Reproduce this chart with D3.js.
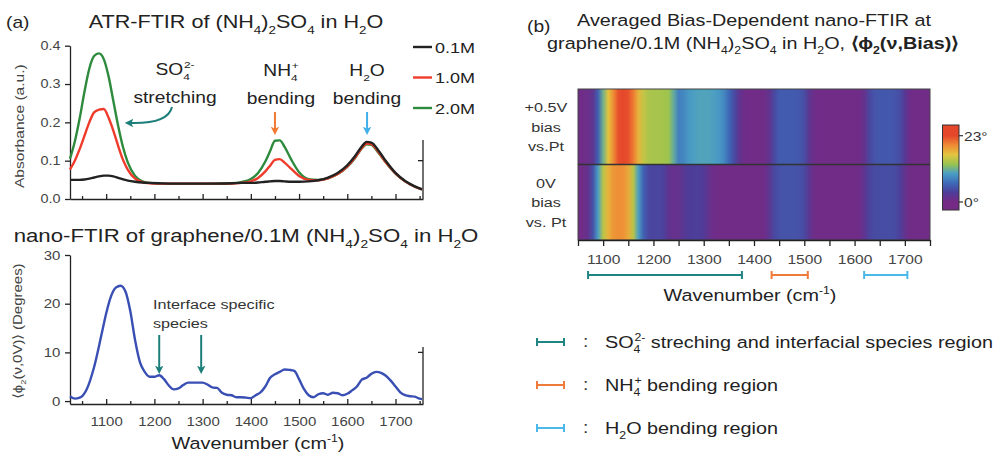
<!DOCTYPE html>
<html>
<head>
<meta charset="utf-8">
<style>
body { margin: 0; background: #fff; }
svg { font-family: "Liberation Sans", Arial, sans-serif; }
.axis text { fill: #444; }
.axis path, .axis line { stroke: #222; stroke-width: 1.3; }
</style>
<script src="https://d3js.org/d3.v7.min.js"></script>
</head>
<body>
<svg width="995" height="453"></svg>
<script>
// ---- data ----
var atrWn = [1025,1035,1045,1055,1065,1075,1085,1095,1105,1115,1125,1135,1145,1160,1175,1190,1210,1240,1280,1320,1360,1380,1400,1415,1430,1440,1450,1460,1470,1485,1500,1520,1540,1560,1580,1600,1615,1630,1640,1650,1665,1680,1700,1720,1740,1755];
var atr01 = [.05,.05,.05,.051,.053,.056,.059,.061,.061,.059,.055,.051,.048,.045,.043,.042,.041,.04,.04,.04,.041,.042,.042,.043,.045,.046,.047,.047,.046,.045,.045,.046,.049,.056,.068,.088,.11,.137,.149,.147,.126,.099,.068,.047,.033,.025];
var atr10 = [.077,.1,.13,.165,.2,.226,.233,.235,.212,.178,.138,.102,.076,.053,.044,.041,.04,.04,.04,.04,.04,.042,.046,.055,.072,.087,.102,.104,.095,.077,.06,.05,.049,.054,.065,.085,.106,.133,.145,.143,.122,.096,.067,.046,.032,.025];
var atr20 = [.105,.15,.21,.28,.34,.373,.38,.365,.32,.255,.19,.135,.095,.06,.046,.042,.04,.04,.04,.04,.041,.044,.052,.068,.098,.125,.152,.153,.136,.1,.07,.052,.05,.054,.065,.084,.105,.132,.143,.141,.12,.095,.066,.046,.032,.025];
var atrLabels = ["0.1M","1.0M","2.0M"];
var atrColors = ["#222222","#ef3b2c","#2e8b3e"];

var nanoWn = [1025,1035,1045,1060,1075,1090,1100,1110,1120,1130,1140,1150,1160,1170,1180,1190,1200,1210,1220,1230,1240,1250,1260,1270,1280,1290,1300,1310,1320,1330,1340,1350,1360,1370,1380,1390,1400,1410,1420,1430,1440,1450,1460,1470,1480,1490,1500,1510,1520,1530,1540,1550,1560,1570,1580,1590,1600,1610,1620,1630,1640,1650,1660,1670,1680,1690,1700,1710,1720,1730,1740,1750,1755];
var nanoPhase = [1.0,0.5,0.7,2.5,7,13.5,18,21.5,23.3,23.7,22.5,18.5,12.5,8,6,5,5,5.3,4.5,3.2,2.4,2.6,3.3,3.8,3.8,3.8,3.8,3.4,2.8,2.7,1.7,1.3,1.2,0.8,0.8,0.7,0.6,1.2,1.8,3,4.8,5.5,6,6.5,6.4,6.2,4.5,2.5,1.2,0.8,1.4,1.6,1.3,1.7,1.6,1.2,1.5,2.2,3,4.4,4.8,5.6,6,5.8,5.2,4.2,3,1.8,1.2,1.0,0.9,0.5,0.4];

var hmWn = [1050,1060,1070,1080,1090,1100,1110,1120,1130,1140,1150,1160,1170,1180,1190,1200,1210,1220,1230,1240,1250,1260,1270,1280,1290,1300,1310,1320,1330,1340,1350,1360,1370,1380,1390,1400,1410,1420,1430,1440,1450,1460,1470,1480,1490,1500,1510,1520,1530,1540,1550,1560,1570,1580,1590,1600,1610,1620,1630,1640,1650,1660,1670,1680,1690,1700,1710,1720,1730,1740,1750];
var hmRows = ["+0.5V","0V"];
var hmBias05 = [0.5,0.5,0.8,2,6,11.5,16.5,19.5,22.5,23,22.5,20.5,17.5,15,14,13.8,13.8,13.6,13.3,11,8,8.5,9.5,10,10.2,10.2,10.2,10,9.5,8.5,6.5,4.5,2,0.6,0.3,0.3,0.3,0.5,1.5,4,5.5,5.5,5.5,5.5,5.3,4.5,2,0.6,0.3,0.3,0.3,0.3,0.3,0.3,0.3,0.3,0.5,1.5,4,5,5.3,5.3,5.3,5,4.5,2.5,0.6,0.3,0.3,0.3,0.3];
var hmBias0 = [0.3,0.5,1.5,5,10,14.5,17.5,19,19.5,19.3,18,14.5,10,6,4.2,3.8,4,3.6,1.8,1.2,1.5,2.5,3.2,3.4,3.4,3,1.5,0.6,0.3,0.3,0.3,0.3,0.3,0.3,0.3,0.3,0.3,0.5,2,4,4.8,5,5,5,4.8,4.2,2,0.5,0.3,0.3,0.3,0.3,0.3,0.3,0.3,0.3,0.6,2,3.8,4.3,4.5,4.5,4.5,4.3,3.5,1.5,0.4,0.3,0.3,0.3,0.3];

var regionStart = [1070,1435,1619];
var regionEnd = [1376,1507,1705];
var regionColors = ["#1f8582","#f07a3a","#4ab8e8"];

var colorStops = [0,3.3,6.6,9.9,13.1,16.4,19.7,23];
var colorList = ["#752a85","#4d3d99","#3d6ab8","#4a9ec6","#98c450","#e3c53f","#ef8b35","#e5472a"];

var SX = 1.2; // reference lettering is horizontally wide
var svg = d3.select("svg");

// rich text with subscripts/superscripts
function rich(t, parts, size) {
  var shift = 0;
  parts.forEach(function(p) {
    var kind = p[1], o = p[2] || {};
    var target = kind === "sub" ? size * 0.32 : kind === "sup" ? -size * 0.42 : 0;
    var ts = t.append("tspan").text(p[0]).attr("dy", target - shift);
    if (kind) ts.style("font-size", (size * 0.62) + "px");
    if (o.dx) ts.attr("dx", o.dx);
    if (o.bold) ts.style("font-weight", "bold");
    shift = target;
  });
  return t;
}
function txt(x, y, size, anchor, rot) {
  return svg.append("text")
    .attr("transform", "translate(" + x + "," + y + ")" + (rot ? " rotate(" + rot + ")" : "") + " scale(" + SX + ",1)")
    .style("font-size", size + "px").attr("text-anchor", anchor || "start").attr("fill", "#222");
}
function stretchTicks(sel, size) {
  sel.selectAll("text").style("font-size", size + "px")
    .attr("transform", "scale(" + SX + ",1)");
}

// markers
var defs = svg.append("defs");
[["teal","#1d7f7a"],["orange","#f07830"],["blue","#3fb0e8"]].forEach(function(m) {
  defs.append("marker").attr("id", "arr-" + m[0]).attr("viewBox", "0 0 10 10")
    .attr("refX", 4).attr("refY", 5).attr("markerWidth", 4.2).attr("markerHeight", 4.2)
    .attr("orient", "auto")
    .append("path").attr("d", "M0,0 L10,5 L0,10 L2.5,5 Z").attr("fill", m[1]);
});

// ================= (a) top: ATR-FTIR =================
var xA = d3.scaleLinear().domain([1025, 1757]).range([70, 423]);
var yA = d3.scaleLinear().domain([0, 0.4]).range([199, 45.7]);

txt(6, 28, 16).text("(a)");
rich(txt(236, 28, 18, "middle"), [["ATR-FTIR of (NH"],["4","sub"],[")"],["2","sub"],["SO"],["4","sub"],[" in H"],["2","sub"],["O"]], 18);

svg.append("g").attr("class", "axis").attr("transform", "translate(70,0)")
  .call(d3.axisLeft(yA).tickValues([0, 0.1, 0.2, 0.3, 0.4]).tickFormat(d3.format(".1f")).tickSizeInner(5).tickSizeOuter(0).tickPadding(3))
  .call(stretchTicks, 12);
svg.append("g").attr("class", "axis").attr("transform", "translate(0,199)")
  .call(d3.axisTop(xA).tickValues([1100,1200,1300,1400,1500,1600,1700]).tickFormat("").tickSizeInner(5).tickSizeOuter(0));
svg.append("g").attr("class", "axis").attr("transform", "translate(0,199)")
  .call(d3.axisTop(xA).tickValues([1050,1150,1250,1350,1450,1550,1650,1750]).tickFormat("").tickSizeInner(3).tickSizeOuter(0))
  .select(".domain").remove();
svg.append("line").attr("x1", 423).attr("x2", 423).attr("y1", 140).attr("y2", 199).attr("stroke", "#222").attr("stroke-width", 1.3);
svg.append("line").attr("x1", 418).attr("x2", 423).attr("y1", yA(0.1)).attr("y2", yA(0.1)).attr("stroke", "#222").attr("stroke-width", 1.3);

txt(24, yA(0.19), 13, "middle", -90).attr("fill", "#444").text("Absorbance (a.u.)");

var lineA = d3.line().x(function(d) { return xA(d[0]); }).y(function(d) { return yA(d[1]); }).curve(d3.curveMonotoneX);
[atr20, atr10, atr01].forEach(function(s, i) {
  var c = [atrColors[2], atrColors[1], atrColors[0]][i];
  svg.append("path").datum(atrWn.map(function(w, j) { return [w, s[j]]; }))
    .attr("d", lineA).attr("fill", "none").attr("stroke", c).attr("stroke-width", 2.4);
});

// legend
atrLabels.forEach(function(l, i) {
  var y = 47 + i * 30.5;
  svg.append("line").attr("x1", 413).attr("x2", 432).attr("y1", y).attr("y2", y).attr("stroke", atrColors[i]).attr("stroke-width", 2.4);
  txt(435, y + 5.5, 15).text(l);
});

// annotations
rich(txt(175, 75, 16, "middle"), [["SO"],["4","sub"],["2-","sup",{dx:-5}]], 16);
txt(175, 103, 16, "middle").text("stretching");
svg.append("path").attr("d", "M172,107 Q168,124 130,123").attr("fill", "none")
  .attr("stroke", "#1d7f7a").attr("stroke-width", 2).attr("marker-end", "url(#arr-teal)");
rich(txt(281, 76, 16, "middle"), [["NH"],["4","sub"],["+","sup",{dx:-5}]], 16);
txt(281, 104, 16, "middle").text("bending");
svg.append("line").attr("x1", xA(1450)).attr("x2", xA(1450)).attr("y1", 112).attr("y2", 130)
  .attr("stroke", "#f07830").attr("stroke-width", 2).attr("marker-end", "url(#arr-orange)");
rich(txt(367, 76, 16, "middle"), [["H"],["2","sub"],["O"]], 16);
txt(367, 104, 16, "middle").text("bending");
svg.append("line").attr("x1", xA(1641)).attr("x2", xA(1641)).attr("y1", 112).attr("y2", 130)
  .attr("stroke", "#3fb0e8").attr("stroke-width", 2).attr("marker-end", "url(#arr-blue)");

// ================= (a) bottom: nano-FTIR =================
var yB = d3.scaleLinear().domain([-0.6, 30]).range([404, 255]);
rich(txt(246, 242, 18.5, "middle"), [["nano-FTIR of graphene/0.1M (NH"],["4","sub"],[")"],["2","sub"],["SO"],["4","sub"],[" in H"],["2","sub"],["O"]], 18.5);

svg.append("g").attr("class", "axis").attr("transform", "translate(70,0)")
  .call(d3.axisLeft(yB).tickValues([0, 10, 20, 30]).tickSizeInner(5).tickSizeOuter(0).tickPadding(3))
  .call(stretchTicks, 12.5);
svg.append("g").attr("class", "axis").attr("transform", "translate(0,404)")
  .call(d3.axisBottom(xA).tickValues([1100,1200,1300,1400,1500,1600,1700]).tickFormat(d3.format("d")).tickSizeInner(-5).tickSizeOuter(0).tickPadding(13))
  .call(stretchTicks, 12.5);
svg.append("g").attr("class", "axis").attr("transform", "translate(0,404)")
  .call(d3.axisTop(xA).tickValues([1050,1150,1250,1350,1450,1550,1650,1750]).tickFormat("").tickSizeInner(3).tickSizeOuter(0))
  .select(".domain").remove();
svg.append("line").attr("x1", 423).attr("x2", 423).attr("y1", 347).attr("y2", 404).attr("stroke", "#222").attr("stroke-width", 1.3);
svg.append("line").attr("x1", 418).attr("x2", 423).attr("y1", yB(10)).attr("y2", yB(10)).attr("stroke", "#222").attr("stroke-width", 1.3);

rich(txt(22, 331, 12.5, "middle", -90).attr("fill", "#444"),
  [["\u27E8\u03D5"],["2","sub"],["(\u03BD,0V)\u27E9 (Degrees)"]], 12.5);
rich(txt(258, 449, 16.5, "middle"), [["Wavenumber (cm"],["-1","sup"],[")"]], 16.5);

svg.append("path").datum(nanoWn.map(function(w, j) { return [w, nanoPhase[j]]; }))
  .attr("d", d3.line().x(function(d) { return xA(d[0]); }).y(function(d) { return yB(d[1]); }).curve(d3.curveMonotoneX))
  .attr("fill", "none").attr("stroke", "#3a4fb4").attr("stroke-width", 2.4);

txt(153, 309, 13.5).attr("fill", "#333").text("Interface specific");
txt(153, 328, 13.5).attr("fill", "#333").text("species");
[1210, 1297].forEach(function(w) {
  svg.append("line").attr("x1", xA(w)).attr("x2", xA(w)).attr("y1", 335).attr("y2", 369)
    .attr("stroke", "#1d7f7a").attr("stroke-width", 2).attr("marker-end", "url(#arr-teal)");
});

// ================= (b) heatmap =================
txt(527, 32, 16).text("(b)");
txt(754, 26, 16.5, "middle").text("Averaged Bias-Dependent nano-FTIR at");
rich(txt(753, 49, 16.5, "middle"), [["graphene/0.1M (NH"],["4","sub"],[")"],["2","sub"],["SO"],["4","sub"],[" in H"],["2","sub"],["O, "],["\u27E8\u03D5",null,{bold:true}],["2","sub",{bold:true}],["(\u03BD,Bias)\u27E9",null,{bold:true}]], 16.5);

var xH = d3.scaleLinear().domain([1050, 1750]).range([578, 930]);
var yH = d3.scaleBand().domain(hmRows).range([89, 240]);
var color = d3.scaleLinear().domain(colorStops).range(colorList).clamp(true);

[hmBias05, hmBias0].forEach(function(row, r) {
  var g = defs.append("linearGradient").attr("id", "row" + r).attr("gradientUnits", "userSpaceOnUse")
    .attr("x1", xH.range()[0]).attr("x2", xH.range()[1]).attr("y1", 0).attr("y2", 0);
  g.selectAll("stop").data(hmWn).join("stop")
    .attr("offset", function(w) { return (xH(w) - xH.range()[0]) / (xH.range()[1] - xH.range()[0]); })
    .attr("stop-color", function(w, j) { return color(row[j]); });
  svg.append("rect").attr("x", xH.range()[0]).attr("width", xH.range()[1] - xH.range()[0])
    .attr("y", yH(hmRows[r])).attr("height", yH.bandwidth())
    .attr("fill", "url(#row" + r + ")");
});
svg.append("rect").attr("x", 578).attr("y", 89).attr("width", 352).attr("height", 151)
  .attr("fill", "none").attr("stroke", "#444").attr("stroke-width", 1);
svg.append("line").attr("x1", 578).attr("x2", 930).attr("y1", yH("0V")).attr("y2", yH("0V"))
  .attr("stroke", "#333").attr("stroke-width", 1.6);

svg.append("g").attr("class", "axis").attr("transform", "translate(0,240)")
  .call(d3.axisBottom(xH).tickValues([1050,1100,1150,1200,1250,1300,1350,1400,1450,1500,1550,1600,1650,1700,1750])
    .tickFormat(function(d) { return d % 100 === 0 ? d : ""; }).tickSizeInner(6).tickSizeOuter(0).tickPadding(9))
  .call(stretchTicks, 13);

[["+0.5V","bias","vs.Pt"],["0V","bias","vs. Pt"]].forEach(function(lines, r) {
  var cy = yH(hmRows[r]) + yH.bandwidth() / 2;
  lines.forEach(function(l, k) {
    txt(546, cy + (k - 1) * 19.5 + 5, 13.5, "middle").attr("fill", "#333").text(l);
  });
});

// brackets
regionStart.forEach(function(s, i) {
  var x1 = xH(s), x2 = xH(regionEnd[i]);
  var g = svg.append("g").attr("stroke", regionColors[i]).attr("stroke-width", 2);
  g.append("line").attr("x1", x1).attr("x2", x2).attr("y1", 275).attr("y2", 275);
  g.append("line").attr("x1", x1).attr("x2", x1).attr("y1", 271).attr("y2", 279);
  g.append("line").attr("x1", x2).attr("x2", x2).attr("y1", 271).attr("y2", 279);
});
rich(txt(750, 301, 16.5, "middle"), [["Wavenumber (cm"],["-1","sup"],[")"]], 16.5);

// colorbar
var cbY = d3.scaleLinear().domain([0, 23]).range([202, 135.7]);
var grad = defs.append("linearGradient").attr("id", "cbgrad").attr("gradientUnits", "userSpaceOnUse")
  .attr("x1", 0).attr("x2", 0).attr("y1", cbY(0)).attr("y2", cbY(23));
colorStops.forEach(function(v, i) {
  grad.append("stop").attr("offset", v / 23).attr("stop-color", colorList[i]);
});
svg.append("rect").attr("x", 942.5).attr("y", 125).attr("width", 16.5).attr("height", 85)
  .attr("fill", "url(#cbgrad)").attr("stroke", "#333").attr("stroke-width", 1);
[[23, "23\u00B0"], [0, "0\u00B0"]].forEach(function(t) {
  svg.append("line").attr("x1", 959).attr("x2", 963).attr("y1", cbY(t[0])).attr("y2", cbY(t[0])).attr("stroke", "#333").attr("stroke-width", 1.2);
  txt(964, cbY(t[0]) + 5, 13).attr("fill", "#333").text(t[1]);
});

// region legend
var legParts = [
  [["SO"],["4","sub"],["2-","sup",{dx:-5}],[" streching and interfacial species region"]],
  [["NH"],["4","sub"],["+","sup",{dx:-5}],[" bending region"]],
  [["H"],["2","sub"],["O  bending region"]]
];
legParts.forEach(function(p, i) {
  var y = 342 + i * 43;
  var g = svg.append("g").attr("stroke", regionColors[i]).attr("stroke-width", 2);
  g.append("line").attr("x1", 537).attr("x2", 564).attr("y1", y).attr("y2", y);
  g.append("line").attr("x1", 537).attr("x2", 537).attr("y1", y - 4).attr("y2", y + 4);
  g.append("line").attr("x1", 564).attr("x2", 564).attr("y1", y - 4).attr("y2", y + 4);
  txt(583, y + 5, 16).attr("fill", "#333").text(":");
  rich(txt(605, y + 6, 16.5), p, 16.5);
});
</script>
</body>
</html>
